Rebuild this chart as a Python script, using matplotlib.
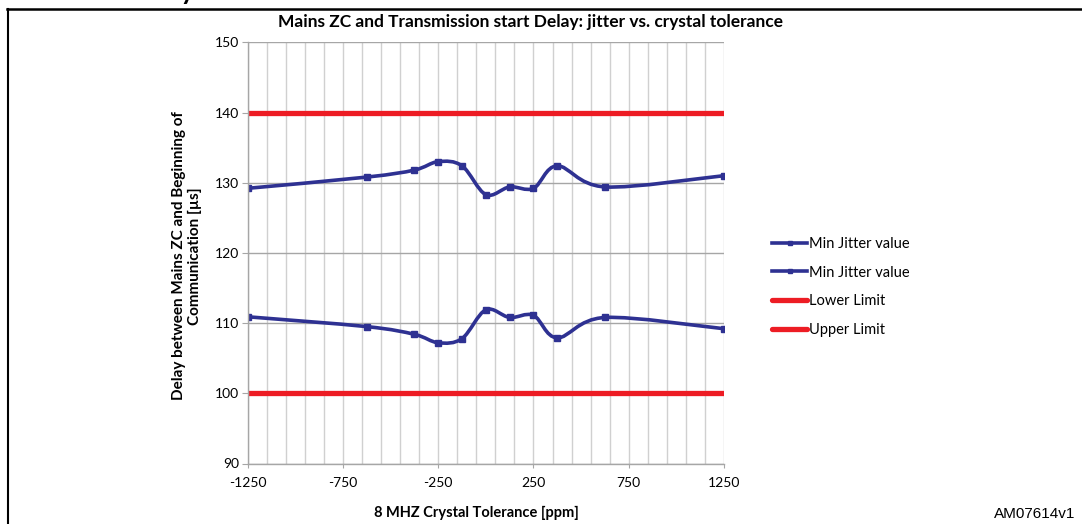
import matplotlib
matplotlib.use('Agg')
import matplotlib.pyplot as plt
from matplotlib.path import Path
from matplotlib.patches import PathPatch
from matplotlib.lines import Line2D

# crystal tolerance (ppm) and measured delays (us)
tolerance = [-1250, -625, -375, -250, -125, 0, 125, 250, 375, 625, 1250]
jitter_high = [129.2, 130.8, 131.8, 133.0, 132.4, 128.3, 129.4, 129.2, 132.4, 129.4, 131.0]
jitter_low = [110.9, 109.5, 108.4, 107.2, 107.8, 111.9, 110.8, 111.1, 107.9, 110.8, 109.2]
lower_limit = [100] * len(tolerance)
upper_limit = [140] * len(tolerance)
x_ticks = [-1250, -750, -250, 250, 750, 1250]
y_ticks = [90, 100, 110, 120, 130, 140, 150]

plt.rcParams['font.family'] = ['Lato', 'DejaVu Sans']
plt.rcParams['axes.unicode_minus'] = False

BLUE = '#2e3192'
RED = '#ed1c24'
W, H = 1082, 524


def smooth_path(xs, ys):
    # bezier segments through the points (excel style smoothed line)
    pts = list(zip(xs, ys))
    n = len(pts)
    verts = [pts[0]]
    codes = [Path.MOVETO]
    for i in range(n - 1):
        p0 = pts[max(i - 1, 0)]
        p1 = pts[i]
        p2 = pts[i + 1]
        p3 = pts[min(i + 2, n - 1)]
        c1 = (p1[0] + (p2[0] - p0[0]) / 6, p1[1] + (p2[1] - p0[1]) / 6)
        c2 = (p2[0] - (p3[0] - p1[0]) / 6, p2[1] - (p3[1] - p1[1]) / 6)
        verts += [c1, c2, p2]
        codes += [Path.CURVE4] * 3
    return Path(verts, codes)


fig = plt.figure(figsize=(W / 100, H / 100), dpi=100)
ax = fig.add_axes([247.7 / W, 1 - 463.5 / H, (724 - 247.7) / W, (463.5 - 42.3) / H])

ax.set_xlim(-1250, 1250)
ax.set_ylim(90, 150)

# grid
ax.set_xticks(range(-1250, 1251, 100), minor=True)
ax.set_xticks(x_ticks)
ax.set_yticks(y_ticks)
ax.grid(True, which='minor', axis='x', color='#d0d0d0', lw=1)
ax.grid(True, which='major', axis='x', color='#d0d0d0', lw=1)
ax.grid(True, which='major', axis='y', color='#a6a6a6', lw=1)
ax.set_axisbelow(True)

for s in ['top', 'right']:
    ax.spines[s].set_visible(False)
for s in ['left', 'bottom']:
    ax.spines[s].set_color('#a6a6a6')
    ax.spines[s].set_linewidth(1)

ax.tick_params(axis='both', which='major', colors='#a6a6a6', labelcolor='black', labelsize=10)
ax.tick_params(axis='y', length=4, pad=2)
ax.tick_params(axis='x', length=3, pad=7)
ax.tick_params(axis='x', which='minor', length=0)

# limits
ax.plot(tolerance, lower_limit, color=RED, lw=3.8, solid_capstyle='round')
ax.plot(tolerance, upper_limit, color=RED, lw=3.8, solid_capstyle='round')

# jitter curves
for vals in [jitter_high, jitter_low]:
    ax.add_patch(PathPatch(smooth_path(tolerance, vals), fill=False, edgecolor=BLUE, lw=2.6))
    ax.plot(tolerance, vals, 's', color=BLUE, ms=4)

handles = [
    Line2D([], [], color=BLUE, lw=2.6, marker='s', ms=3.5),
    Line2D([], [], color=BLUE, lw=2.6, marker='s', ms=3.5),
    Line2D([], [], color=RED, lw=3.8, solid_capstyle='round'),
    Line2D([], [], color=RED, lw=3.8, solid_capstyle='round'),
]
labels = ['Min Jitter value', 'Min Jitter value', 'Lower Limit', 'Upper Limit']
fig.legend(handles, labels, loc='upper left', bbox_to_anchor=(772 / W, 1 - 237 / H),
           bbox_transform=fig.transFigure, frameon=False, fontsize=10.5,
           handlelength=2.4, handletextpad=0.12, labelspacing=1.0,
           borderpad=0, borderaxespad=0)

# titles and labels
fig.text(531 / W, 1 - 22 / H, 'Mains ZC and Transmission start Delay: jitter vs. crystal tolerance',
         ha='center', va='center', fontsize=12.5, fontweight='bold')
fig.text(187 / W, 1 - 256 / H, 'Delay between Mains ZC and Beginning of\nCommunication [µs]',
         ha='center', va='center', rotation=90, fontsize=11, fontweight='bold',
         multialignment='center', linespacing=1.15)
fig.text(476 / W, 1 - 513 / H, '8 MHZ Crystal Tolerance [ppm]',
         ha='center', va='center', fontsize=10.5, fontweight='bold')
fig.text(1075 / W, 1 - 514 / H, 'AM07614v1', ha='right', va='center',
         fontsize=11, family='Liberation Sans')
fig.text(158 / W, 1 - 0.5 / H, 'crystal tolerance', ha='left', va='baseline',
         fontsize=19, fontweight='bold')

# frame around the chart
fig.add_artist(Line2D([7 / W, 1], [1 - 9 / H, 1 - 9 / H], color='black', lw=1.8))
fig.add_artist(Line2D([8 / W, 8 / W], [0, 1 - 9 / H], color='black', lw=1.5))

fig.savefig('out.png', dpi=100)
